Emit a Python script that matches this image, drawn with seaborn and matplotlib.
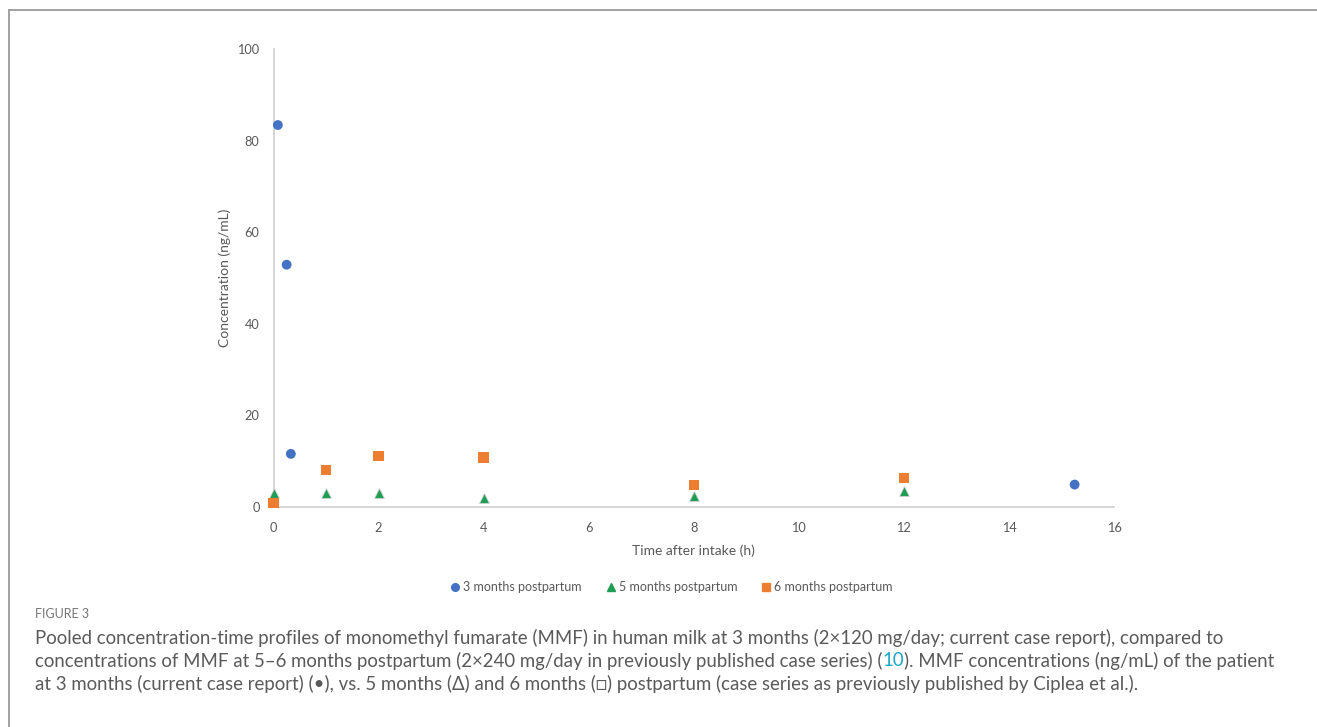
import numpy as np
import pandas as pd
import matplotlib
matplotlib.use("Agg")
import matplotlib.pyplot as plt
from matplotlib.lines import Line2D
import seaborn as sns

# ---- data ----
series_names = ["3 months postpartum", "5 months postpartum", "6 months postpartum"]
t_3m = [0.083, 0.25, 0.33, 15.25]
c_3m = [83.4, 52.9, 11.6, 4.9]
t_5m = [0, 1, 2, 4, 8, 12]
c_5m = [3.1, 3.05, 3.1, 2.0, 2.3, 3.6]
t_6m = [0, 1, 2, 4, 8, 12]
c_6m = [0.8, 8.1, 11.1, 10.8, 4.8, 6.3]
x_ticks = [0, 2, 4, 6, 8, 10, 12, 14, 16]
y_ticks = [0, 20, 40, 60, 80, 100]

colors = {"3 months postpartum": "#4472C4",
          "5 months postpartum": "#1E9E55",
          "6 months postpartum": "#ED7D31"}
markers = {"3 months postpartum": "o",
           "5 months postpartum": "^",
           "6 months postpartum": "s"}
sizes = {"3 months postpartum": 50,
         "5 months postpartum": 50,
         "6 months postpartum": 55}

df = pd.concat([
    pd.DataFrame({"t": t_3m, "c": c_3m, "series": series_names[0]}),
    pd.DataFrame({"t": t_5m, "c": c_5m, "series": series_names[1]}),
    pd.DataFrame({"t": t_6m, "c": c_6m, "series": series_names[2]}),
])

sns.set_style("white")
plt.rcParams["font.family"] = ["Lato", "DejaVu Sans"]

W, H = 1317, 727
fig = plt.figure(figsize=(W / 100, H / 100), dpi=100)
ax = fig.add_axes([273.5 / W, 1 - 507 / H, (1114 - 273.5) / W, (507 - 49) / H])

for name in series_names:
    sub = df[df["series"] == name]
    sns.scatterplot(data=sub, x="t", y="c", ax=ax, color=colors[name],
                    marker=markers[name], s=sizes[name],
                    edgecolor=("#cfcfcf" if name.startswith("5") else "none"),
                    linewidth=(0.6 if name.startswith("5") else 0),
                    label=name, legend=False, zorder=3, clip_on=False)

ax.set_xlim(0, 16)
ax.set_ylim(0, 100)
ax.set_xticks(x_ticks)
ax.set_yticks(y_ticks)
ax.set_xticklabels([str(v) for v in x_ticks])
ax.set_yticklabels([str(v) for v in y_ticks])

txt_col = "#595959"
axis_col = "#D0D0D0"
for s in ["top", "right"]:
    ax.spines[s].set_visible(False)
for s in ["left", "bottom"]:
    ax.spines[s].set_color(axis_col)
    ax.spines[s].set_linewidth(1.2)
ax.tick_params(axis="both", which="major", length=5, width=1.0, color=axis_col,
               labelcolor=txt_col, labelsize=9.2, direction="out")
ax.tick_params(axis="x", pad=6)
ax.tick_params(axis="y", pad=5)
ax.set_xlabel("Time after intake (h)", color=txt_col, fontsize=10, labelpad=7)
ax.set_ylabel("Concentration (ng/mL)", color=txt_col, fontsize=10, labelpad=5)
ax.grid(False)

handles = [Line2D([], [], linestyle="none", marker=markers[n], color=colors[n],
                  markersize=5.5) for n in series_names]
fig.legend(handles, series_names, loc="center", ncol=3,
           bbox_to_anchor=(672 / W, 1 - 587 / H), frameon=False,
           fontsize=9, labelcolor=txt_col, handlelength=0.6, handletextpad=0.35,
           columnspacing=2.0)

# frame (top and left edges)
frame_col = "#9A9A9A"
fig.add_artist(Line2D([9 / W, 1.0], [1 - 9.5 / H, 1 - 9.5 / H], color=frame_col,
                      linewidth=1.3, transform=fig.transFigure))
fig.add_artist(Line2D([9 / W, 9 / W], [1 - 9.5 / H, 0.0], color=frame_col,
                      linewidth=1.3, transform=fig.transFigure))

# caption
cap_col = "#5A5A5A"
cap_fs = 13.4
fam = ["Lato", "DejaVu Sans"]
fig.text(35 / W, 1 - 614 / H, "FIGURE 3", color="#777777", fontsize=9,
         va="center", ha="left")
fig.text(35 / W, 1 - 638 / H,
         "Pooled concentration-time profiles of monomethyl fumarate (MMF) in human milk at 3 months (2×120 mg/day; current case report), compared to",
         color=cap_col, fontsize=cap_fs, va="center", ha="left", family=fam)
t1 = fig.text(35 / W, 1 - 661 / H,
              "concentrations of MMF at 5–6 months postpartum (2×240 mg/day in previously published case series) (",
              color=cap_col, fontsize=cap_fs, va="center", ha="left", family=fam)
a2 = plt.annotate("10", xy=(1, 0.5), xycoords=t1, va="center", ha="left",
                  color="#1AA6C8", fontsize=cap_fs, family=fam, annotation_clip=False)
a3 = plt.annotate("). MMF concentrations (ng/mL) of the patient", xy=(1, 0.5),
                  xycoords=a2, va="center", ha="left", color=cap_col,
                  fontsize=cap_fs, family=fam, annotation_clip=False)
fig.text(35 / W, 1 - 684 / H,
         "at 3 months (current case report) (•), vs. 5 months (Δ) and 6 months (□) postpartum (case series as previously published by Ciplea et al.).",
         color=cap_col, fontsize=cap_fs, va="center", ha="left", family=fam)

fig.savefig("out.png", dpi=100)
